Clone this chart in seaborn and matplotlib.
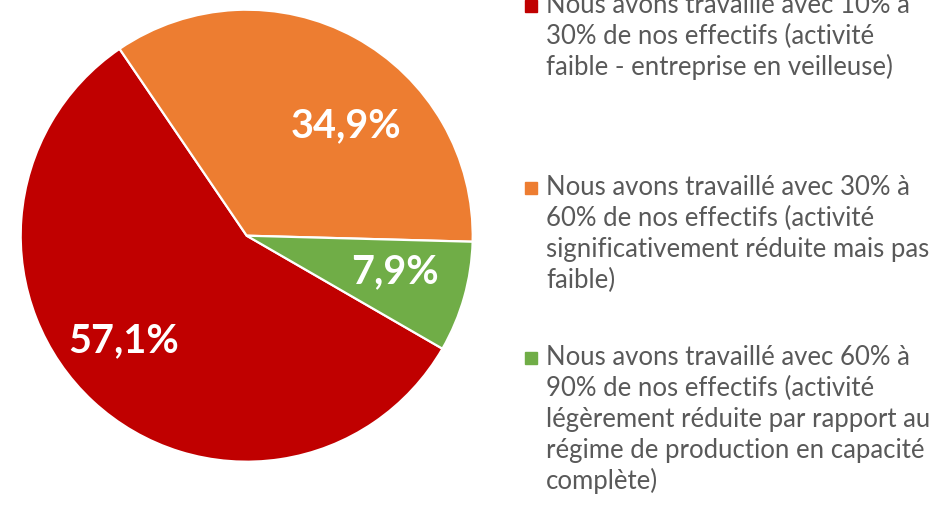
import matplotlib.pyplot as plt
import seaborn as sns
from matplotlib.patches import Rectangle

# data
categories = [
    "Nous avons travaillé avec 10% à\n30% de nos effectifs (activité\nfaible - entreprise en veilleuse)",
    "Nous avons travaillé avec 30% à\n60% de nos effectifs (activité\nsignificativement réduite mais pas\nfaible)",
    "Nous avons travaillé avec 60% à\n90% de nos effectifs (activité\nlégèrement réduite par rapport au\nrégime de production en capacité\ncomplète)",
]
shares = [57.1, 34.9, 7.9]
colors = ["#C00000", "#ED7D31", "#70AD47"]

sns.set_theme(style="white")
plt.rcParams["font.family"] = ["Lato", "DejaVu Sans"]

W, H = 941, 510
fig = plt.figure(figsize=(W / 100, H / 100), dpi=100)

# pie axes: centre (246.7, 236.7) px, radius 226 px
ax = fig.add_axes([20.7 / W, (H - 462.7) / H, 452 / W, 452 / H])
wedges, _ = ax.pie(shares, colors=sns.color_palette(colors), startangle=-30,
                   counterclock=False, radius=1,
                   wedgeprops=dict(edgecolor="white", linewidth=1.6))
ax.set_xlim(-1, 1)
ax.set_ylim(-1, 1)
ax.set_aspect("equal")
ax.axis("off")

# percentage labels (positions as Excel placed them)
label_pos = [(-0.545, -0.51), (0.44, 0.441), (0.656, -0.205)]
for v, (x, y) in zip(shares, label_pos):
    ax.text(x, y, f"{v:.1f}".replace(".", ",") + "%", color="white",
            fontsize=28.5, fontweight="bold", ha="center", va="baseline")

# legend drawn entry by entry, one text per line (baselines in px)
first_baselines = [13, 195, 365]
pitch = 31
for lab, col, yb in zip(categories, colors, first_baselines):
    for i, line in enumerate(lab.split("\n")):
        fig.text(546 / W, 1 - (yb + i * pitch) / H, line, color="#595959",
                 fontsize=18.5, ha="left", va="baseline")
    fig.add_artist(Rectangle((525 / W, 1 - yb / H), 12 / W, 12 / H,
                             transform=fig.transFigure, color=col))

fig.savefig("out.png", dpi=100)
